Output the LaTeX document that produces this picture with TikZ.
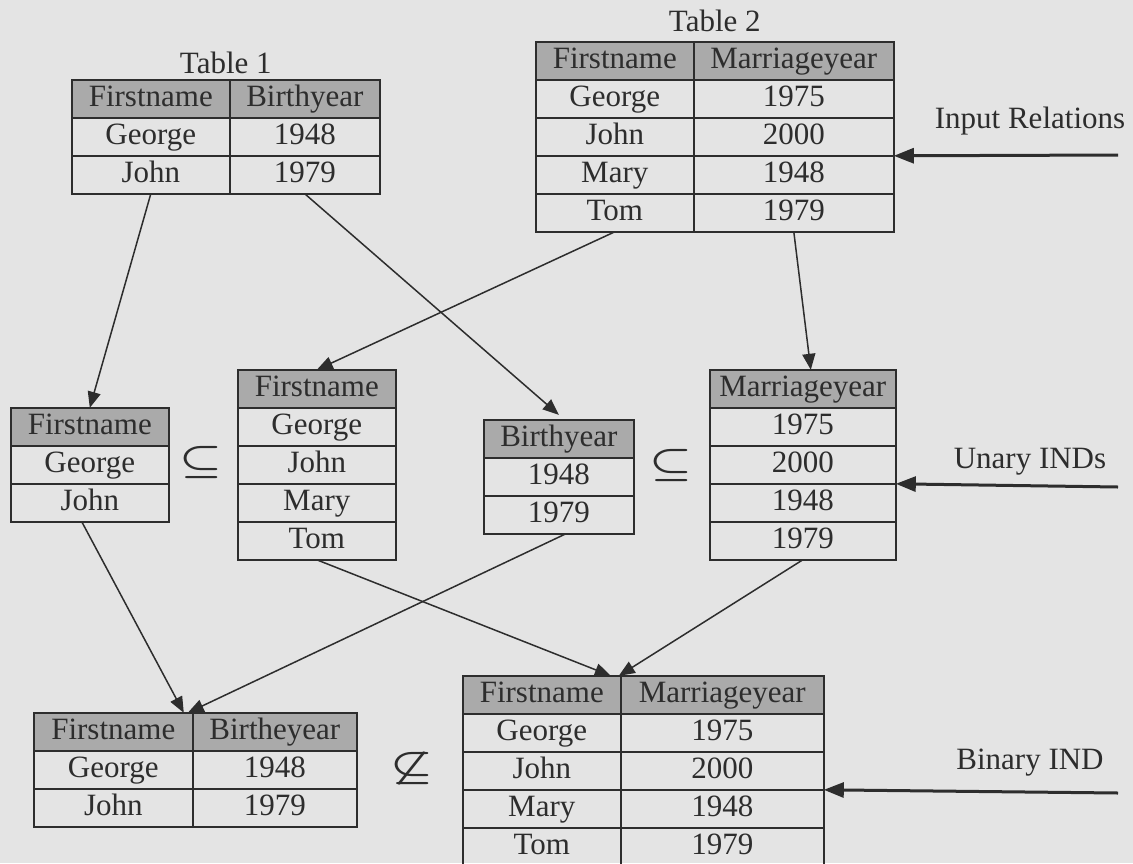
\documentclass[tikz,border=0pt]{standalone}
\usepackage{fontspec}
\usepackage{amssymb}
\usepackage{graphicx}
\setmainfont{Liberation Serif}
\usetikzlibrary{matrix,positioning,arrows.meta}

\definecolor{paper}{RGB}{228,228,228}
\definecolor{headgray}{RGB}{170,170,170}
\definecolor{ink}{RGB}{45,45,45}

\newcommand{\bigrel}[1]{\scalebox{4.8}[3.6]{\boldmath$#1$}}

\tikzset{
  table/.style={matrix of nodes,anchor=north west,inner sep=0pt,outer sep=0pt,
    column sep=-1.6pt,row sep=-1.6pt,
    nodes={draw=ink,line width=1.6pt,text=ink,minimum height=38pt,inner sep=0pt,
      text height=22pt,text depth=7pt,font=\fontsize{31}{36}\selectfont},
    row 1/.style={nodes={fill=headgray}}},
  cols/.style 2 args={column 1/.style={nodes={minimum width=#1}},
    column 2/.style={nodes={minimum width=#2}}},
  colw/.style={nodes={minimum width=#1}},
  title/.style={text=ink,inner sep=1pt,font=\fontsize{31}{36}\selectfont},
  note/.style={text=ink,inner sep=0pt,font=\fontsize{31}{36}\selectfont},
  sym/.style={text=ink,inner sep=0pt},
  link/.style={-{Triangle[length=16pt,width=13pt]},line width=1.5pt,color=ink},
  pointer/.style={-{Triangle[length=20pt,width=15pt]},line width=3pt,color=ink}
}

\begin{document}
\begin{tikzpicture}[x=1pt,y=-1pt]

  \useasboundingbox (0,0) rectangle (1133,863);
  \fill[paper] (0,0) rectangle (1133,863);

  % input relations
  \matrix[table,cols={158pt}{150pt}] (t1) at (71,79) {
    Firstname & Birthyear \\
    George & 1948 \\
    John & 1979 \\
  };
  \node[title,above=4pt of t1] (t1name) {Table 1};

  \matrix[table,cols={158pt}{200pt}] (t2) at (535,41) {
    Firstname & Marriageyear \\
    George & 1975 \\
    John & 2000 \\
    Mary & 1948 \\
    Tom & 1979 \\
  };
  \node[title,above=8pt of t2] (t2name) {Table 2};

  % unary INDs
  \matrix[table,colw=158pt] (u1) at (10,407) {
    Firstname \\
    George \\
    John \\
  };
  \matrix[table,colw=158pt] (u2) at (237,369) {
    Firstname \\
    George \\
    John \\
    Mary \\
    Tom \\
  };
  \matrix[table,colw=150pt] (u3) at (483,419) {
    Birthyear \\
    1948 \\
    1979 \\
  };
  \matrix[table,colw=186pt] (u4) at (709,369) {
    Marriageyear \\
    1975 \\
    2000 \\
    1948 \\
    1979 \\
  };
  \node[sym] (sub1) at (201,462) {\bigrel{\subseteq}};
  \node[sym] (sub2) at (671,465) {\bigrel{\subseteq}};

  % binary IND
  \matrix[table,cols={159pt}{164pt}] (b1) at (33,712) {
    Firstname & Birtheyear \\
    George & 1948 \\
    John & 1979 \\
  };
  \matrix[table,cols={158pt}{203pt}] (b2) at (462,675) {
    Firstname & Marriageyear \\
    George & 1975 \\
    John & 2000 \\
    Mary & 1948 \\
    Tom & 1979 \\
  };
  \node[sym] (nsub) at (412,768) {\bigrel{\not\subseteq}};

  % side notes
  \coordinate (in1) at (1118,155);
  \coordinate (in2) at (1118,487);
  \coordinate (in3) at (1118,793);
  \node[note] (l1) at (1030,121) {Input Relations};
  \node[note] (l2) at (1030,462) {Unary INDs};
  \node[note] (l3) at (1030,763) {Binary IND};

  \path[link]
    (t1-3-1.south) edge (u1-1-1.north)
    (t1-3-2.south) edge ([yshift=5pt]u3-1-1.north)
    (t2-5-1.south) edge (u2-1-1.north)
    (t2-5-2.south) edge ([xshift=8pt]u4-1-1.north)
    ([xshift=-8pt]u1-3-1.south) edge ([xshift=-9pt]b1-1-1.north east)
    ([xshift=7pt]u3-3-1.south) edge ([xshift=-5pt]b1-1-1.north east)
    (u2-5-1.south) edge ([xshift=-10pt]b2-1-1.north east)
    (u4-5-1.south) edge ([xshift=-2pt]b2-1-1.north east)
  ;
  \path[pointer]
    (in1) edge (t2-3-2.south east)
    (in2) edge (u4-3-1.south east)
    (in3) edge (b2-3-2.south east)
  ;
\end{tikzpicture}
\end{document}
